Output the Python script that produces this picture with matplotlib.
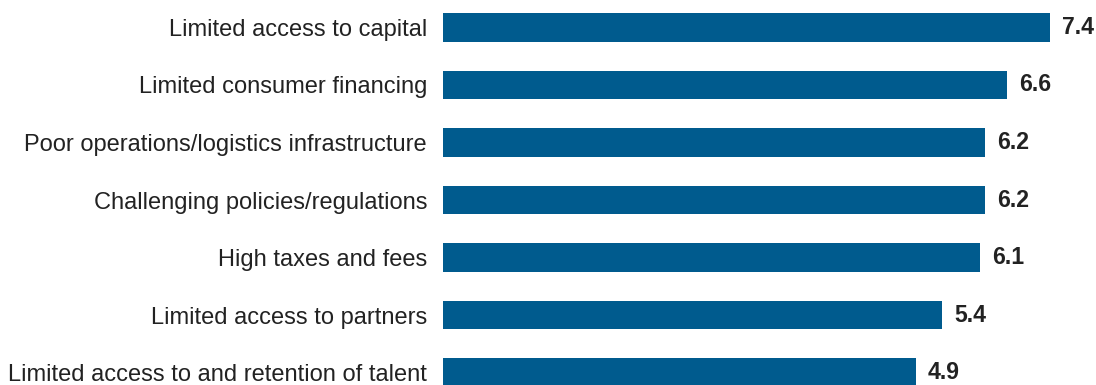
import matplotlib.pyplot as plt

# barriers and their scores, top to bottom
categories = [
    "Limited access to capital",
    "Limited consumer financing",
    "Poor operations/logistics infrastructure",
    "Challenging policies/regulations",
    "High taxes and fees",
    "Limited access to partners",
    "Limited access to and retention of talent",
]
scores = [7.4, 6.6, 6.2, 6.2, 6.1, 5.4, 4.9]

base = -3.9  # bars start here on the value axis
bar_color = "#005b8e"
text_color = "#222222"

plt.rcParams["font.family"] = ["Liberation Sans", "DejaVu Sans"]

fig = plt.figure(figsize=(10.96, 3.85), dpi=100)
ax = fig.add_axes([443 / 1096, 0, 653 / 1096, 1])

y = list(range(len(categories)))
ax.barh(y, [s - base for s in scores], left=base, height=0.5, color=bar_color)

for yi, s in zip(y, scores):
    ax.annotate(f"{s:.1f}", xy=(s, yi), xytext=(8.5, 0), textcoords="offset points",
                ha="left", va="center", fontsize=16.6, fontweight="bold", color=text_color)

ax.set_xlim(base, base + 653 / 53.7)
ax.set_ylim(6.217, -0.478)
ax.set_yticks(y)
ax.set_yticklabels(categories, fontsize=17, color=text_color)
ax.tick_params(axis="y", length=0, pad=11.5)
ax.set_xticks([])
for sp in ax.spines.values():
    sp.set_visible(False)

fig.savefig("out.png", dpi=100)
